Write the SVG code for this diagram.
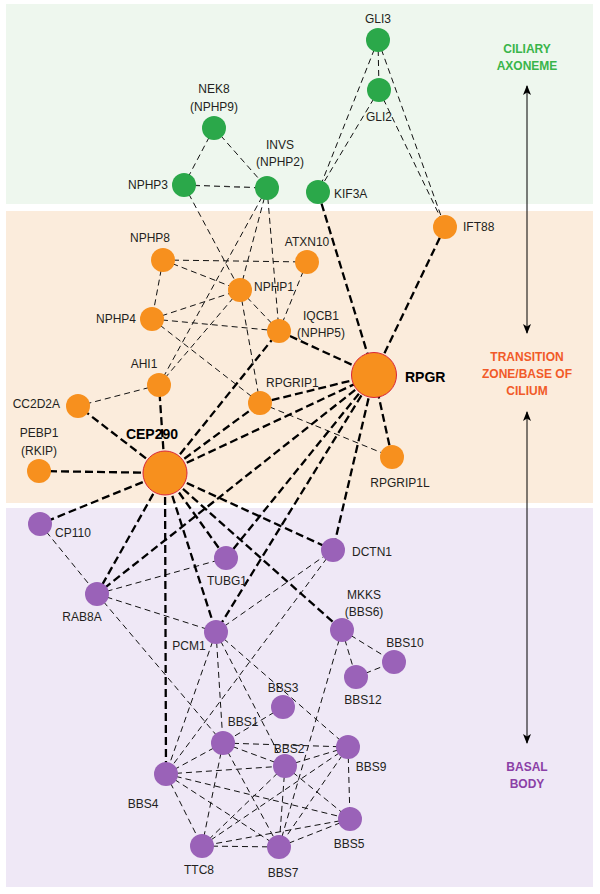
<svg xmlns="http://www.w3.org/2000/svg" width="600" height="894" viewBox="0 0 600 894">
<defs>
<style>
.lbl{font-family:"Liberation Sans",Arial,sans-serif;font-size:12px;fill:#231f20}
.big{font-family:"Liberation Sans",Arial,sans-serif;font-size:14px;font-weight:bold;fill:#000}
.reg{font-family:"Liberation Sans",Arial,sans-serif;font-size:12px;font-weight:bold;text-anchor:middle}
.m{text-anchor:middle}.e{text-anchor:end}
.thin{stroke:#111;stroke-width:1;stroke-dasharray:6 4;fill:none}
.thick{stroke:#000;stroke-width:2.3;stroke-dasharray:8 4;fill:none}
.g{fill:#2ba84a}.o{fill:#f7901e}.p{fill:#9a62b8}
.hub{fill:#f7901e;stroke:#d9263a;stroke-width:1}
.arr{stroke:#000;stroke-width:1;fill:none}
</style>
<marker id="ah" viewBox="0 0 10 10" refX="9" refY="5" markerWidth="10" markerHeight="10" markerUnits="userSpaceOnUse" orient="auto-start-reverse">
<path d="M0,1 L10,5 L0,9 L2.5,5 Z" fill="#000"/>
</marker>
</defs>
<rect x="6" y="4" width="587" height="200" fill="#eef7ee"/>
<rect x="6" y="211" width="587" height="292" fill="#fbecdc"/>
<rect x="6" y="508" width="587" height="379" fill="#efe8f6"/>
<g id="regions">
<text class="reg" x="527" y="53" fill="#39b54a">CILIARY</text>
<text class="reg" x="527" y="70" fill="#39b54a">AXONEME</text>
<text class="reg" x="527" y="361" fill="#f15a29">TRANSITION</text>
<text class="reg" x="527" y="378" fill="#f15a29">ZONE/BASE OF</text>
<text class="reg" x="527" y="395" fill="#f15a29">CILIUM</text>
<text class="reg" x="527" y="771" fill="#8b3fa6">BASAL</text>
<text class="reg" x="527" y="788" fill="#8b3fa6">BODY</text>
<line class="arr" x1="527" y1="333" x2="527" y2="86" marker-start="url(#ah)" marker-end="url(#ah)"/>
<line class="arr" x1="527" y1="743" x2="527" y2="412" marker-start="url(#ah)" marker-end="url(#ah)"/>
</g>
<g id="connectors">
<line class="thin" x1="214" y1="128" x2="184" y2="185"/>
<line class="thin" x1="214" y1="128" x2="267" y2="188"/>
<line class="thin" x1="184" y1="185" x2="267" y2="188" style="stroke-width:1.3;stroke:#333"/>
<line class="thin" x1="378" y1="40" x2="379" y2="90"/>
<line class="thin" x1="378" y1="40" x2="318" y2="192"/>
<line class="thin" x1="379" y1="90" x2="318" y2="192"/>
<line class="thin" x1="378" y1="40" x2="445" y2="227"/>
<line class="thin" x1="379" y1="90" x2="445" y2="227"/>
<line class="thin" x1="184" y1="185" x2="240" y2="290"/>
<line class="thin" x1="267" y1="188" x2="240" y2="290"/>
<line class="thin" x1="267" y1="188" x2="279" y2="331"/>
<line class="thin" x1="267" y1="188" x2="159" y2="385"/>
<line class="thin" x1="163" y1="260" x2="307" y2="262"/>
<line class="thin" x1="163" y1="260" x2="240" y2="290"/>
<line class="thin" x1="163" y1="260" x2="152" y2="319"/>
<line class="thin" x1="152" y1="319" x2="240" y2="290"/>
<line class="thin" x1="152" y1="319" x2="279" y2="331"/>
<line class="thin" x1="152" y1="319" x2="260" y2="403"/>
<line class="thin" x1="240" y1="290" x2="279" y2="331"/>
<line class="thin" x1="240" y1="290" x2="159" y2="385"/>
<line class="thin" x1="240" y1="290" x2="260" y2="403"/>
<line class="thin" x1="307" y1="262" x2="279" y2="331"/>
<line class="thin" x1="159" y1="385" x2="78" y2="406"/>
<line class="thin" x1="260" y1="403" x2="392" y2="457"/>
<line class="thin" x1="40" y1="524" x2="97" y2="594"/>
<line class="thin" x1="97" y1="594" x2="226" y2="558"/>
<line class="thin" x1="97" y1="594" x2="216" y2="632"/>
<line class="thin" x1="97" y1="594" x2="223" y2="743"/>
<line class="thin" x1="216" y1="632" x2="333" y2="550"/>
<line class="thin" x1="333" y1="550" x2="166" y2="774"/>
<line class="thin" x1="216" y1="632" x2="166" y2="774"/>
<line class="thin" x1="216" y1="632" x2="223" y2="743"/>
<line class="thin" x1="216" y1="632" x2="285" y2="766"/>
<line class="thin" x1="216" y1="632" x2="348" y2="747"/>
<line class="thin" x1="342" y1="630" x2="394" y2="662"/>
<line class="thin" x1="342" y1="630" x2="356" y2="677"/>
<line class="thin" x1="356" y1="677" x2="394" y2="662"/>
<line class="thin" x1="342" y1="630" x2="279" y2="847"/>
<line class="thin" x1="283" y1="707" x2="223" y2="743"/>
<line class="thin" x1="223" y1="743" x2="348" y2="747"/>
<line class="thin" x1="223" y1="743" x2="285" y2="766"/>
<line class="thin" x1="223" y1="743" x2="166" y2="774"/>
<line class="thin" x1="223" y1="743" x2="202" y2="846"/>
<line class="thin" x1="223" y1="743" x2="279" y2="847"/>
<line class="thin" x1="166" y1="774" x2="285" y2="766"/>
<line class="thin" x1="166" y1="774" x2="350" y2="819"/>
<line class="thin" x1="166" y1="774" x2="279" y2="847"/>
<line class="thin" x1="166" y1="774" x2="202" y2="846"/>
<line class="thin" x1="285" y1="766" x2="348" y2="747"/>
<line class="thin" x1="285" y1="766" x2="279" y2="847"/>
<line class="thin" x1="285" y1="766" x2="202" y2="846"/>
<line class="thin" x1="285" y1="766" x2="350" y2="819"/>
<line class="thin" x1="348" y1="747" x2="350" y2="819"/>
<line class="thin" x1="348" y1="747" x2="202" y2="846"/>
<line class="thin" x1="348" y1="747" x2="279" y2="847"/>
<line class="thin" x1="350" y1="819" x2="202" y2="846"/>
<line class="thin" x1="350" y1="819" x2="279" y2="847"/>
<line class="thin" x1="202" y1="846" x2="279" y2="847"/>
<line class="thick" x1="318" y1="192" x2="374" y2="375"/>
<line class="thick" x1="445" y1="227" x2="374" y2="375"/>
<line class="thick" x1="279" y1="331" x2="374" y2="375"/>
<line class="thick" x1="260" y1="403" x2="374" y2="375"/>
<line class="thick" x1="392" y1="457" x2="374" y2="375"/>
<line class="thick" x1="165" y1="473" x2="374" y2="375"/>
<line class="thick" x1="165" y1="473" x2="39" y2="471"/>
<line class="thick" x1="165" y1="473" x2="78" y2="406"/>
<line class="thick" x1="165" y1="473" x2="159" y2="385"/>
<line class="thick" x1="165" y1="473" x2="279" y2="331"/>
<line class="thick" x1="165" y1="473" x2="260" y2="403"/>
<line class="thick" x1="165" y1="473" x2="40" y2="524"/>
<line class="thick" x1="165" y1="473" x2="97" y2="594"/>
<line class="thick" x1="165" y1="473" x2="166" y2="774"/>
<line class="thick" x1="165" y1="473" x2="216" y2="632"/>
<line class="thick" x1="165" y1="473" x2="226" y2="558"/>
<line class="thick" x1="165" y1="473" x2="342" y2="630"/>
<line class="thick" x1="165" y1="473" x2="333" y2="550"/>
<line class="thick" x1="374" y1="375" x2="97" y2="594"/>
<line class="thick" x1="374" y1="375" x2="226" y2="558"/>
<line class="thick" x1="374" y1="375" x2="216" y2="632"/>
<line class="thick" x1="374" y1="375" x2="333" y2="550"/>
</g>
<g id="GLI3"><circle class="g" cx="378" cy="40" r="12"/><text class="lbl m" x="378" y="23">GLI3</text></g>
<g id="GLI2"><circle class="g" cx="379" cy="90" r="12"/><text class="lbl m" x="379" y="121">GLI2</text></g>
<g id="KIF3A"><circle class="g" cx="318" cy="192" r="12"/><text class="lbl" x="334" y="198">KIF3A</text></g>
<g id="NEK8"><circle class="g" cx="214" cy="128" r="12"/><text class="lbl m" x="214" y="93">NEK8</text><text class="lbl m" x="214" y="111">(NPHP9)</text></g>
<g id="INVS"><circle class="g" cx="267" cy="188" r="12"/><text class="lbl m" x="280" y="149">INVS</text><text class="lbl m" x="280" y="166">(NPHP2)</text></g>
<g id="NPHP3"><circle class="g" cx="184" cy="185" r="12"/><text class="lbl e" x="168" y="189">NPHP3</text></g>
<g id="IFT88"><circle class="o" cx="445" cy="227" r="12"/><text class="lbl" x="463" y="231">IFT88</text></g>
<g id="NPHP8"><circle class="o" cx="163" cy="260" r="12"/><text class="lbl m" x="150" y="242">NPHP8</text></g>
<g id="ATXN10"><circle class="o" cx="307" cy="262" r="12"/><text class="lbl m" x="307" y="246">ATXN10</text></g>
<g id="NPHP1"><circle class="o" cx="240" cy="290" r="12"/><text class="lbl" x="254" y="291">NPHP1</text></g>
<g id="NPHP4"><circle class="o" cx="152" cy="319" r="12"/><text class="lbl e" x="136" y="323">NPHP4</text></g>
<g id="IQCB1"><circle class="o" cx="279" cy="331" r="12"/><text class="lbl m" x="321" y="320">IQCB1</text><text class="lbl m" x="321" y="337">(NPHP5)</text></g>
<g id="AHI1"><circle class="o" cx="159" cy="385" r="12"/><text class="lbl m" x="144" y="368">AHI1</text></g>
<g id="CC2D2A"><circle class="o" cx="78" cy="406" r="12"/><text class="lbl e" x="60" y="408">CC2D2A</text></g>
<g id="RPGRIP1"><circle class="o" cx="260" cy="403" r="12"/><text class="lbl" x="266" y="387">RPGRIP1</text></g>
<g id="PEBP1"><circle class="o" cx="39" cy="471" r="12"/><text class="lbl m" x="39" y="437">PEBP1</text><text class="lbl m" x="39" y="455">(RKIP)</text></g>
<g id="CEP290"><circle class="hub" cx="165" cy="473" r="22"/><text class="big m" x="152" y="439">CEP290</text></g>
<g id="RPGR"><circle class="hub" cx="374" cy="375" r="22.5"/><text class="big" x="405" y="382">RPGR</text></g>
<g id="RPGRIP1L"><circle class="o" cx="392" cy="457" r="12"/><text class="lbl m" x="400" y="487">RPGRIP1L</text></g>
<g id="CP110"><circle class="p" cx="40" cy="524" r="12"/><text class="lbl" x="55" y="537">CP110</text></g>
<g id="TUBG1"><circle class="p" cx="226" cy="558" r="12"/><text class="lbl m" x="227" y="585">TUBG1</text></g>
<g id="RAB8A"><circle class="p" cx="97" cy="594" r="12"/><text class="lbl m" x="82" y="621">RAB8A</text></g>
<g id="PCM1"><circle class="p" cx="216" cy="632" r="12"/><text class="lbl m" x="189" y="650">PCM1</text></g>
<g id="DCTN1"><circle class="p" cx="333" cy="550" r="12"/><text class="lbl" x="352" y="556">DCTN1</text></g>
<g id="MKKS"><circle class="p" cx="342" cy="630" r="12"/><text class="lbl m" x="364" y="599">MKKS</text><text class="lbl m" x="364" y="616">(BBS6)</text></g>
<g id="BBS10"><circle class="p" cx="394" cy="662" r="12"/><text class="lbl m" x="405" y="647">BBS10</text></g>
<g id="BBS12"><circle class="p" cx="356" cy="677" r="12"/><text class="lbl m" x="363" y="704">BBS12</text></g>
<g id="BBS3"><circle class="p" cx="283" cy="707" r="12"/><text class="lbl m" x="283" y="692">BBS3</text></g>
<g id="BBS1"><circle class="p" cx="223" cy="743" r="12"/><text class="lbl m" x="243" y="726">BBS1</text></g>
<g id="BBS2"><circle class="p" cx="285" cy="766" r="12"/><text class="lbl m" x="289" y="753">BBS2</text></g>
<g id="BBS9"><circle class="p" cx="348" cy="747" r="12"/><text class="lbl m" x="371" y="771">BBS9</text></g>
<g id="BBS4"><circle class="p" cx="166" cy="774" r="12"/><text class="lbl m" x="143" y="808">BBS4</text></g>
<g id="BBS5"><circle class="p" cx="350" cy="819" r="12"/><text class="lbl m" x="349" y="848">BBS5</text></g>
<g id="TTC8"><circle class="p" cx="202" cy="846" r="12"/><text class="lbl m" x="199" y="874">TTC8</text></g>
<g id="BBS7"><circle class="p" cx="279" cy="847" r="12"/><text class="lbl m" x="283" y="877">BBS7</text></g>
</svg>
